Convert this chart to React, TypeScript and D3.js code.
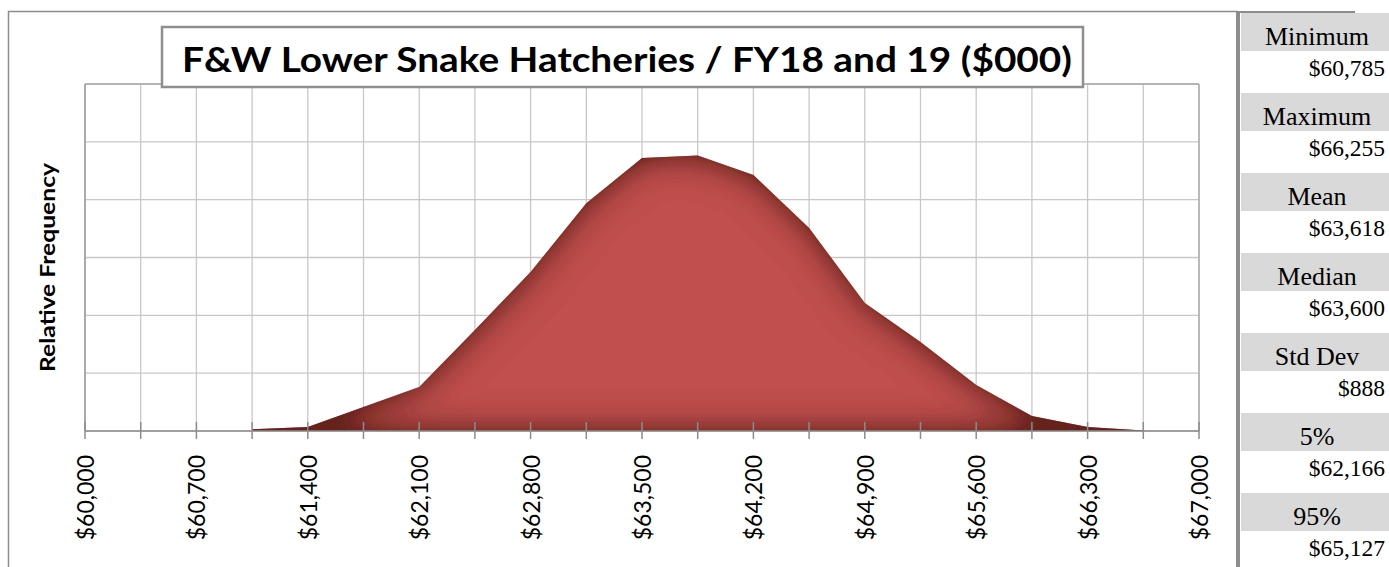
import React from "react";
import * as d3 from "d3";

// ---- data ----
const binValues = [61050, 61400, 61750, 62100, 62450, 62800, 63150, 63500, 63850, 64200, 64550, 64900, 65250, 65600, 65950, 66300, 66650];
const frequency = [0.0006, 0.0014, 0.0083, 0.0152, 0.0349, 0.055, 0.0788, 0.0944, 0.0953, 0.0885, 0.0702, 0.0443, 0.0308, 0.0159, 0.0052, 0.0014, 0.0002];
const labelTicks = [60000, 60700, 61400, 62100, 62800, 63500, 64200, 64900, 65600, 66300, 67000];
const minorTicks = d3.range(60000, 67001, 350);
const yGridValues = [0, 0.02, 0.04, 0.06, 0.08, 0.1, 0.12];
const statLabels = ["Minimum", "Maximum", "Mean", "Median", "Std Dev", "5%", "95%"];
const statValues = ["$60,785", "$66,255", "$63,618", "$63,600", "$888", "$62,166", "$65,127"];
const titleText = "F&W Lower Snake Hatcheries / FY18 and 19 ($000)";
const yAxisTitle = "Relative Frequency";

const W = 1389;
const H = 567;
const plot = { left: 85, right: 1199, top: 84, bottom: 431 };

export default function App() {
  const x = d3.scaleLinear().domain([60000, 67000]).range([plot.left, plot.right]);
  const y = d3.scaleLinear().domain([0, 0.12]).range([plot.bottom, plot.top]);
  const pts = binValues.map((v, i) => [v, frequency[i]] as [number, number]);
  const area = d3
    .area<[number, number]>()
    .x((d) => x(d[0]))
    .y0(y(0))
    .y1((d) => y(d[1]));
  const fmt = d3.format(",");
  const sans = "Lato, 'Open Sans', sans-serif";
  const serif = "'Liberation Serif', 'DejaVu Serif', serif";

  return (
    <svg
      width={W}
      height={H}
      style={{ position: "absolute", left: 0, top: 0, background: "#fff" }}
    >
      <defs>
        <filter id="innerShadow" filterUnits="userSpaceOnUse" x={0} y={0} width={W} height={H}>
          <feFlood floodColor="#66211f" floodOpacity={1} result="flood" />
          <feComposite in="flood" in2="SourceAlpha" operator="out" result="outside" />
          <feGaussianBlur in="outside" stdDeviation={18} result="blur" />
          <feComponentTransfer in="blur" result="boost">
            <feFuncA type="linear" slope={1.5} intercept={0} />
          </feComponentTransfer>
          <feComposite in="boost" in2="SourceAlpha" operator="in" result="shadow" />
          <feMerge>
            <feMergeNode in="SourceGraphic" />
            <feMergeNode in="shadow" />
          </feMerge>
        </filter>
      </defs>

      {/* outer chart frame */}
      <line x1={8.5} x2={8.5} y1={11} y2={H} stroke="#8c8c8c" strokeWidth={1.5} />
      <line x1={8} x2={1238} y1={11.5} y2={11.5} stroke="#8c8c8c" strokeWidth={1.5} />
      <line x1={1238} x2={1355} y1={12} y2={12} stroke="#8c8c8c" strokeWidth={2} />

      {/* gridlines */}
      {yGridValues.map((v) => (
        <line key={"h" + v} x1={plot.left} x2={plot.right} y1={y(v)} y2={y(v)} stroke="#c8c8c8" strokeWidth={1.3} />
      ))}
      {minorTicks.map((v) => (
        <line key={"v" + v} x1={x(v)} x2={x(v)} y1={plot.top} y2={plot.bottom} stroke="#c8c8c8" strokeWidth={1.3} />
      ))}
      <line x1={plot.left} x2={plot.left} y1={plot.top} y2={plot.bottom} stroke="#9a9a9a" strokeWidth={1.5} />
      <line x1={plot.right} x2={plot.right} y1={plot.top} y2={plot.bottom} stroke="#a8a8a8" strokeWidth={1.3} />
      <line x1={plot.left} x2={plot.right} y1={plot.top} y2={plot.top} stroke="#a8a8a8" strokeWidth={1.3} />

      {/* area */}
      <path d={area(pts) || ""} fill="#c0504d" filter="url(#innerShadow)" />

      {/* x axis */}
      <line x1={plot.left} x2={plot.right} y1={plot.bottom} y2={plot.bottom} stroke="#8c8c8c" strokeWidth={1.5} />
      {minorTicks.map((v) => (
        <line key={"t" + v} x1={x(v)} x2={x(v)} y1={plot.bottom - 9} y2={plot.bottom + 8} stroke="#8c8c8c" strokeWidth={1.5} />
      ))}
      {labelTicks.map((v) => (
        <text
          key={"l" + v}
          transform={`translate(${x(v) + 9},455) rotate(-90)`}
          textAnchor="end"
          fontFamily={sans}
          fontSize={23}
          fill="#000"
        >
          {"$" + fmt(v)}
        </text>
      ))}

      {/* y axis title */}
      <text
        transform="translate(55,267.5) rotate(-90)"
        textAnchor="middle"
        fontFamily={sans}
        fontWeight="bold"
        fontSize={21}
        textLength={209}
        lengthAdjust="spacingAndGlyphs"
      >
        {yAxisTitle}
      </text>

      {/* title box */}
      <rect x={162} y={27} width={921} height={60} fill="#fff" stroke="#8f8f8f" strokeWidth={2.5} />
      <text
        x={627}
        y={71.5}
        textAnchor="middle"
        fontFamily={sans}
        fontWeight="bold"
        fontSize={35}
        textLength={890}
        lengthAdjust="spacingAndGlyphs"
      >
        {titleText}
      </text>

      {/* stats panel */}
      <rect x={1236} y={11} width={4} height={H - 11} fill="#8c8c8c" />
      {statLabels.map((lab, i) => (
        <g key={lab}>
          <rect x={1241} y={13 + i * 80} width={W - 1241} height={38} fill="#d9d9d9" />
          <text x={1317} y={45 + i * 80} textAnchor="middle" fontFamily={serif} fontSize={26} fill="#000">
            {lab}
          </text>
          <text x={1385} y={76 + i * 80} textAnchor="end" fontFamily={serif} fontSize={23.5} fill="#000">
            {statValues[i]}
          </text>
        </g>
      ))}
    </svg>
  );
}
